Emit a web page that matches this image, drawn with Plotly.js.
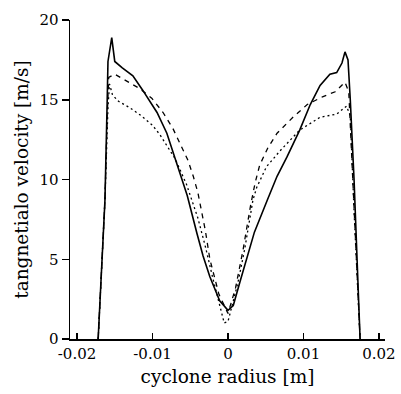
<!DOCTYPE html>
<html>
<head>
<meta charset="utf-8">
<script src="https://cdn.plot.ly/plotly-3.0.1.min.js"></script>
<style>
html,body{margin:0;padding:0;background:#fff;}
#chart{width:401px;height:394px;}
</style>
</head>
<body>
<div id="chart"></div>
<script>
// Solid curve
const solidX = [-0.0172,-0.0163,-0.0160,-0.0159,-0.0154,-0.0150,-0.0140,-0.0126,-0.0113,-0.0094,-0.0081,-0.0064,-0.0054,-0.0041,-0.0033,-0.0024,-0.0011,0.0000,0.0007,0.0016,0.0025,0.0035,0.0052,0.0065,0.0078,0.0095,0.0109,0.0122,0.0135,0.0144,0.0151,0.0155,0.0159,0.0162,0.0167,0.0175];
const solidY = [0,8.7,15.0,17.4,18.9,17.4,17.0,16.5,15.6,14.2,12.9,10.4,9.0,6.6,5.2,3.9,2.4,1.8,2.1,3.6,5.0,6.7,8.7,10.2,11.4,13.1,14.7,15.9,16.6,16.7,17.3,18.0,17.5,15.0,10.0,0];
// Dashed curve
const dashX = [-0.0172,-0.0163,-0.0160,-0.0158,-0.0150,-0.0139,-0.0117,-0.0101,-0.0086,-0.0073,-0.0064,-0.0053,-0.0046,-0.0040,-0.0030,-0.0024,-0.0012,0.0000,0.0010,0.0020,0.0030,0.0036,0.0042,0.0053,0.0065,0.0086,0.0105,0.0126,0.0142,0.0155,0.0160,0.0165,0.0175];
const dashY = [0,8.7,14.0,16.4,16.6,16.3,15.7,15.1,14.2,13.2,12.3,11.2,10.2,9.2,6.8,5.0,2.8,1.6,3.2,5.6,8.4,9.8,10.9,12.0,12.9,13.9,14.7,15.2,15.5,16.1,15.5,10.0,0];
// Dotted curve
const dotX = [-0.0172,-0.0163,-0.0159,-0.0157,-0.0153,-0.0145,-0.0130,-0.0115,-0.0100,-0.0090,-0.0070,-0.0055,-0.0040,-0.0030,-0.0020,-0.0010,-0.0005,0.0000,0.0007,0.0013,0.0022,0.0033,0.0038,0.0051,0.0069,0.0095,0.0122,0.0144,0.0157,0.0162,0.0167,0.0175];
const dotY = [0,8.7,14.5,16.0,15.3,14.9,14.5,14.0,13.4,12.8,11.3,9.7,7.6,5.8,3.8,1.8,1.0,1.1,2.4,3.5,5.6,8.7,9.5,10.8,11.8,13.1,13.9,14.1,14.6,14.0,8.0,0];

const xTickVals = [-0.02,-0.01,0,0.01,0.02];
const xTickText = ["-0.02","-0.01","0","0.01","0.02"];
const yTickVals = [0,5,10,15,20];
const yTickText = ["0","5","10","15","20"];

const traces = [
  {x: solidX, y: solidY, mode:'lines', line:{color:'#000', width:1.6, dash:'solid'}},
  {x: dashX, y: dashY, mode:'lines', line:{color:'#000', width:1.3, dash:'5px,5px'}},
  {x: dotX, y: dotY, mode:'lines', line:{color:'#000', width:1.3, dash:'2px,3px'}}
];

const fontFam = 'DejaVu Serif, Liberation Serif, serif';
const layout = {
  width:401, height:394,
  margin:{l:70, r:16, t:20, b:55},
  paper_bgcolor:'#fff', plot_bgcolor:'#fff',
  showlegend:false,
  font:{family:fontFam, color:'#000', size:15},
  xaxis:{
    range:[-0.02093,0.0208],
    showline:true, linecolor:'#000', linewidth:1.5,
    ticks:'inside', ticklen:6, tickwidth:1.5, tickcolor:'#000',
    tickvals:xTickVals, ticktext:xTickText,
    showgrid:false, zeroline:false,
    tickfont:{family:fontFam, size:15},
    title:{text:'cyclone radius [m]', font:{family:fontFam, size:18.5}, standoff:8}
  },
  yaxis:{
    range:[0,20],
    showline:true, linecolor:'#000', linewidth:1.5,
    ticks:'outside', ticklen:7, tickwidth:1.5, tickcolor:'#000',
    tickvals:yTickVals, ticktext:yTickText,
    showgrid:false, zeroline:false,
    tickfont:{family:fontFam, size:15},
    title:{text:'tangnetialo velocity [m/s]', font:{family:fontFam, size:18.5}, standoff:6}
  }
};
Plotly.newPlot('chart', traces, layout, {displayModeBar:false, staticPlot:true});
</script>
</body>
</html>
